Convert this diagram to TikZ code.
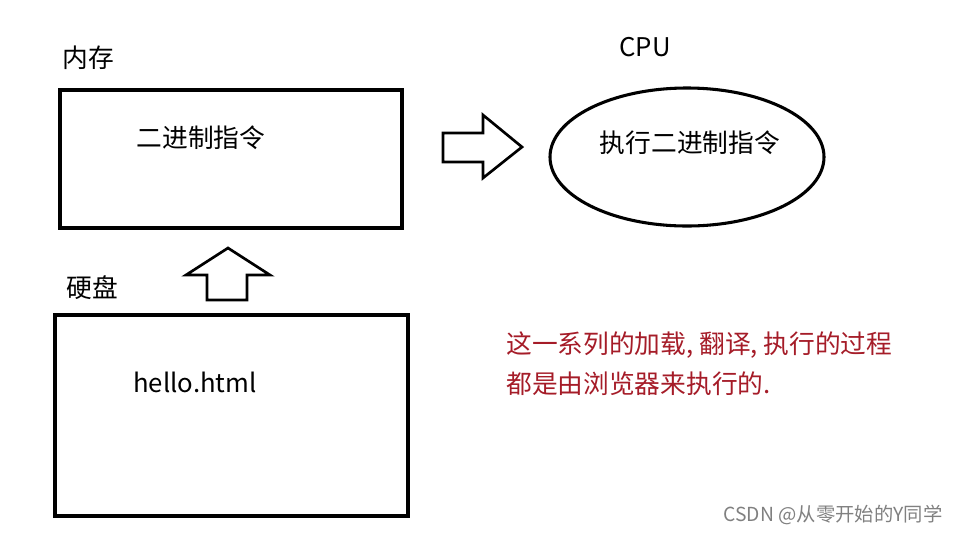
\documentclass[tikz,border=0pt]{standalone}
\usepackage{fontspec}
\setmainfont{Noto Sans CJK SC}
\usetikzlibrary{shapes.geometric}
\definecolor{redtxt}{RGB}{165,28,40}
\tikzset{box/.style={draw,line width=2.3pt},
 lbl/.style={font=\fontsize{19.3}{22}\selectfont,inner sep=0pt},
 red/.style={font=\fontsize{19.3}{30}\selectfont,text=redtxt,align=left,inner sep=0pt,anchor=north west}}
\begin{document}
\begin{tikzpicture}[x=0.75pt,y=-0.75pt]
\useasboundingbox (0,0) rectangle (959,533);
\node[lbl,anchor=west] (mem) at (62,58) {内存};
\draw[box] (60,90) rectangle (402,228);
\node[lbl] (bin) at (201,138) {二进制指令};
\draw[line width=2pt,line join=miter] (443,133) -- (483,133) -- (483,115) -- (522,147) -- (483,178) -- (483,162) -- (443,162) -- cycle;
\node[lbl] (cpu) at (645,47) {CPU};
\node[ellipse,draw,line width=2.3pt,minimum width=274pt*0.75,minimum height=138pt*0.75] (ell) at (687,157) {};
\node[lbl] (exec) at (690,143) {执行二进制指令};
\draw[line width=2pt,line join=miter] (207,300) -- (207,275) -- (186,275) -- (228,248) -- (270,275) -- (247,275) -- (247,300) -- cycle;
\node[lbl,anchor=west] (disk) at (66,288) {硬盘};
\draw[box] (55,315) rectangle (408,516);
\node[lbl] (hello) at (195,382) {hello.html};
\node[red] (note) at (506,331) {这一系列的加载, 翻译, 执行的过程\\都是由浏览器来执行的.};
\node[font=\fontsize{14.5}{16}\selectfont,text=gray,inner sep=0pt] (wm) at (833,515) {CSDN @从零开始的Y同学};
\end{tikzpicture}
\end{document}
